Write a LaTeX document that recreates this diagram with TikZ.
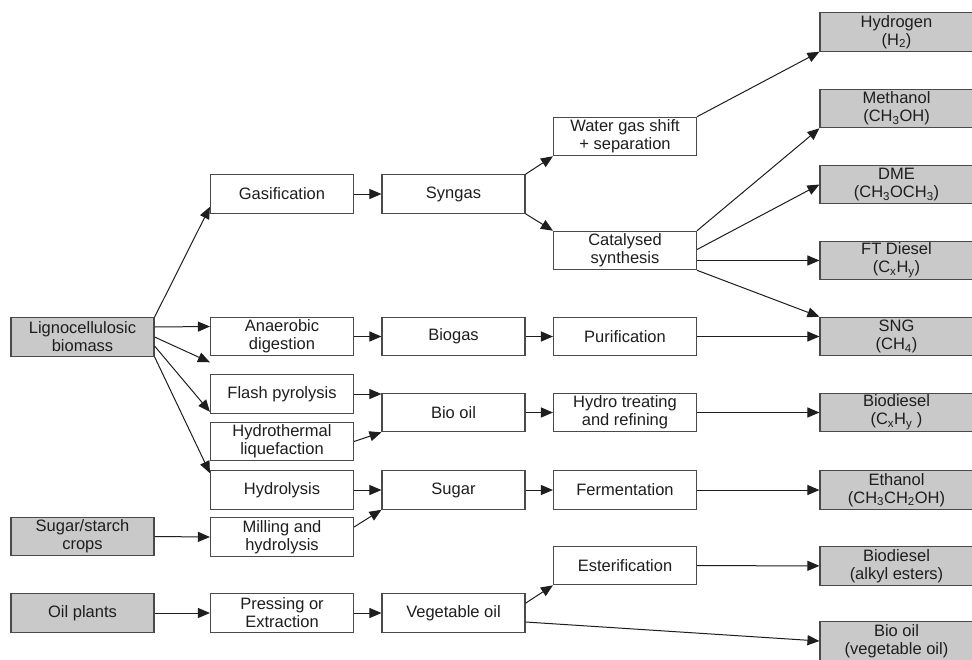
\documentclass[tikz,border=0pt]{standalone}
\usepackage{fontspec}
\setmainfont{Liberation Sans}
\usetikzlibrary{arrows.meta}
\definecolor{boxgray}{HTML}{C9C9CA}
\definecolor{edgegray}{HTML}{4A4A4A}
\definecolor{ink}{HTML}{1E1E1E}

\begin{document}
\begin{tikzpicture}[x = 1pt, y = -1pt, font = \fontsize{16.5}{18}\selectfont,
  proc/.style = {draw = edgegray, line width = 1.1pt, fill = white, text = ink, minimum width = 143pt, minimum height = 38.5pt, inner sep = 1pt, align = center},
  feed/.style = {proc, fill = boxgray},
  fuel/.style = {proc, fill = boxgray, minimum width = 153pt},
  flow/.style = {-{Triangle[length = 12pt, width = 10pt]}, line width = 1pt, draw = ink}]
\useasboundingbox (0,0) rectangle (972,659);
\fill[white] (0,0) rectangle (972,659);

\node[feed](lig) at (82.5,337){Lignocellulosic\\biomass};
\node[feed](sug) at (82.5,536.5){Sugar/starch\\crops};
\node[feed](oil) at (82.5,613){Oil plants};

\node[proc](gas) at (282,194){Gasification};
\node[proc](ana) at (282,336.5){Anaerobic\\digestion};
\node[proc](flash) at (282,394){Flash pyrolysis};
\node[proc](htl) at (282,441.5){Hydrothermal\\liquefaction};
\node[proc](hydrol) at (282,490){Hydrolysis};
\node[proc](mill) at (282,537){Milling and\\hydrolysis};
\node[proc](press) at (282,613){Pressing or\\Extraction};

\node[proc](syn) at (453.5,194){Syngas};
\node[proc](biogas) at (453.5,336.5){Biogas};
\node[proc](biooil) at (453.5,412.5){Bio oil};
\node[proc](sugar) at (453.5,490){Sugar};
\node[proc](vegoil) at (453.5,613){Vegetable oil};

\node[proc](wgs) at (625,136.5){Water gas shift\\+ separation};
\node[proc](cat) at (625,250.5){Catalysed\\synthesis};
\node[proc](pur) at (625,336.5){Purification};
\node[proc](hydrot) at (625,412.5){Hydro treating\\and refining};
\node[proc](ferm) at (625,490){Fermentation};
\node[proc](ester) at (625,565.5){Esterification};

\node[fuel](hyd) at (896.5,32){Hydrogen\\(H\textsubscript{2})};
\node[fuel](meth) at (896.5,108.5){Methanol\\(CH\textsubscript{3}OH)};
\node[fuel](dme) at (896.5,184.5){DME\\(CH\textsubscript{3}OCH\textsubscript{3})};
\node[fuel](ft) at (896.5,260.5){FT Diesel\\(C\textsubscript{x}H\textsubscript{y})};
\node[fuel](sng) at (896.5,336.5){SNG\\(CH\textsubscript{4})};
\node[fuel](bd1) at (896.5,412.5){Biodiesel\\(C\textsubscript{x}H\textsubscript{y} )};
\node[fuel](eth) at (896.5,490){Ethanol\\(CH\textsubscript{3}CH\textsubscript{2}OH)};
\node[fuel](bd2) at (896.5,566){Biodiesel\\(alkyl esters)};
\node[fuel](bo) at (896.5,641){Bio oil\\(vegetable oil)};

\draw[flow] (lig.north east) -- ([yshift = 7pt]gas.south west);
\draw[flow] ([yshift = 10pt]lig.east) -- ([yshift = 10pt]ana.west);
\draw[flow] (lig.east) -- ([yshift = -6pt]ana.south west);
\draw[flow] ([yshift = -9pt]lig.east) -- ([yshift = 2pt]flash.south west);
\draw[flow] (lig.south east) -- ([yshift = -3pt]hydrol.north west);
\draw[flow] (sug.east) -- (mill.west);
\draw[flow] (oil.east) -- (press.west);

\draw[flow] (gas) -- (syn);
\draw[flow] (ana) -- (biogas);
\draw[flow] (flash.east) -- (flash.east -| biooil.west);
\draw[flow] (htl.east) -- (biooil.south west);
\draw[flow] (hydrol) -- (sugar);
\draw[flow] ([yshift = 10pt]mill.east) -- (sugar.south west);
\draw[flow] (press) -- (vegoil);

\draw[flow] (syn.north east) -- (wgs.south west);
\draw[flow] (syn.south east) -- (cat.north west);
\draw[flow] (biogas) -- (pur);
\draw[flow] (biooil) -- (hydrot);
\draw[flow] (sugar) -- (ferm);
\draw[flow] ([yshift = -10pt]vegoil.north east) -- (ester.south west);
\draw[flow] ([yshift = -9pt]vegoil.east) -- (bo.west);

\draw[flow] (wgs.north east) -- (hyd.south west);
\draw[flow] (cat.north east) -- (meth.south west);
\draw[flow] ([yshift = 1pt]cat.east) -- (dme.west);
\draw[flow] ([yshift = -10pt]cat.east) -- (ft.west);
\draw[flow] (cat.south east) -- (sng.north west);
\draw[flow] (pur) -- (sng);
\draw[flow] (hydrot) -- (bd1);
\draw[flow] (ferm) -- (eth);
\draw[flow] (ester) -- (bd2);
\end{tikzpicture}
\end{document}
